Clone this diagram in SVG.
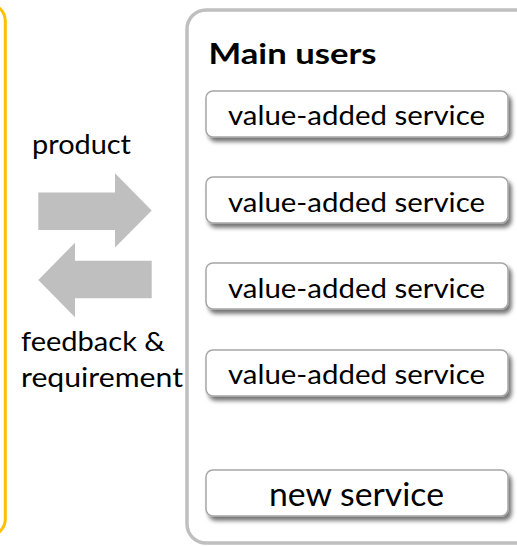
<svg xmlns="http://www.w3.org/2000/svg" width="517" height="546" viewBox="0 0 517 546">
  <style>
    .lbl { font-family: Lato, "Open Sans", "Liberation Sans", sans-serif; font-size: 26.5px; fill: #000; }
    .svc { fill: #ffffff; stroke: #a6a6a6; stroke-width: 1.5; filter: url(#shadow); }
    .svctxt { font-family: Lato, "Open Sans", "Liberation Sans", sans-serif; font-size: 26.5px; fill: #000; }
    .arrow { fill: #bfbfbf; }
  </style>
  <defs>
    <filter id="shadow" x="-10%" y="-30%" width="125%" height="170%">
      <feGaussianBlur in="SourceAlpha" stdDeviation="2.2"/>
      <feOffset dx="3" dy="4" result="b"/>
      <feComponentTransfer><feFuncA type="linear" slope="0.55"/></feComponentTransfer>
      <feMerge><feMergeNode/><feMergeNode in="SourceGraphic"/></feMerge>
    </filter>
  </defs>
  <rect width="517" height="546" fill="#ffffff"/>

  <g id="provider">
    <rect x="-30" y="4" width="35.3" height="532" rx="17" fill="none" stroke="#ffc000" stroke-width="3"/>
  </g>

  <g id="main-users">
    <rect x="187" y="10" width="360" height="533" rx="19" fill="#ffffff" stroke="#bfbfbf" stroke-width="3.5"/>
    <text x="208.5" y="63.5" font-family="Lato, 'Open Sans', 'Liberation Sans', sans-serif" font-weight="bold" font-size="29" textLength="168" lengthAdjust="spacingAndGlyphs">Main users</text>
  </g>

  <g id="service-1">
    <rect class="svc" x="206" y="91" width="302" height="46" rx="7"/>
    <text class="svctxt" x="228" y="125" textLength="257" lengthAdjust="spacingAndGlyphs">value-added service</text>
  </g>
  <g id="service-2">
    <rect class="svc" x="206" y="177" width="302" height="46" rx="7"/>
    <text class="svctxt" x="228" y="211.5" textLength="257" lengthAdjust="spacingAndGlyphs">value-added service</text>
  </g>
  <g id="service-3">
    <rect class="svc" x="206" y="263" width="302" height="46" rx="7"/>
    <text class="svctxt" x="228" y="297.5" textLength="257" lengthAdjust="spacingAndGlyphs">value-added service</text>
  </g>
  <g id="service-4">
    <rect class="svc" x="206" y="350" width="302" height="46" rx="7"/>
    <text class="svctxt" x="228" y="384" textLength="257" lengthAdjust="spacingAndGlyphs">value-added service</text>
  </g>
  <g id="service-new">
    <rect class="svc" x="206" y="470" width="302" height="46" rx="7"/>
    <text class="svctxt" x="269" y="505.5" textLength="175" lengthAdjust="spacingAndGlyphs" style="font-size:32.5px">new service</text>
  </g>

  <g id="connectors">
    <polygon class="arrow" points="38.3,192.5 115,192.5 115,173.3 151.7,210.5 115,247.5 115,230 38.3,230"/>
    <polygon class="arrow" points="151.7,260.7 75,260.7 75,242.7 38.3,280 75,317.3 75,298.3 151.7,298.3"/>
    <text class="lbl" x="32" y="154.3" textLength="99" lengthAdjust="spacingAndGlyphs">product</text>
    <text class="lbl" x="21" y="350.7" textLength="144" lengthAdjust="spacingAndGlyphs">feedback &amp;</text>
    <text class="lbl" x="21" y="386.7" textLength="162" lengthAdjust="spacingAndGlyphs">requirement</text>
  </g>
</svg>
